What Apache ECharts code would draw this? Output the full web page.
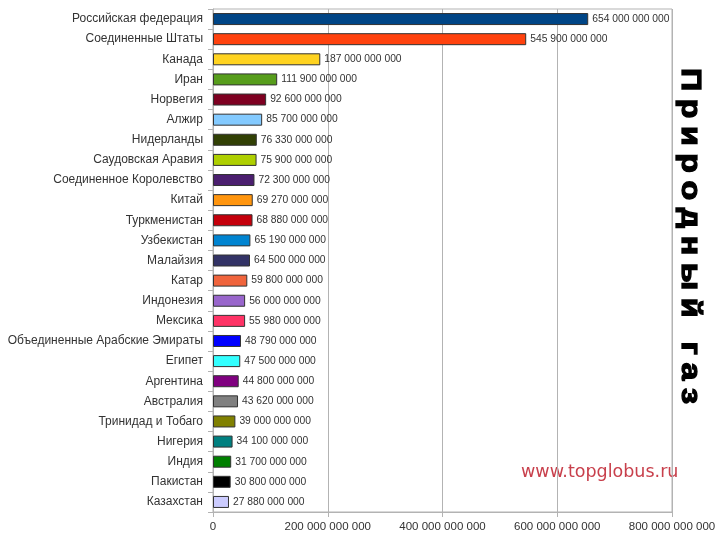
<!DOCTYPE html>
<html>
<head>
<meta charset="utf-8">
<script src="https://cdn.jsdelivr.net/npm/echarts@6/dist/echarts.min.js"></script>
<style>html,body{margin:0;padding:0;background:#fff}#c{width:720px;height:540px}</style>
</head>
<body>
<div id="c"></div>
<script>
const categories = ['Российская федерация','Соединенные Штаты','Канада','Иран','Норвегия','Алжир','Нидерланды','Саудовская Аравия','Соединенное Королевство','Китай','Туркменистан','Узбекистан','Малайзия','Катар','Индонезия','Мексика','Объединенные Арабские Эмираты','Египет','Аргентина','Австралия','Тринидад и Тобаго','Нигерия','Индия','Пакистан','Казахстан'];
const values = [654000000000,545900000000,187000000000,111900000000,92600000000,85700000000,76330000000,75900000000,72300000000,69270000000,68880000000,65190000000,64500000000,59800000000,56000000000,55980000000,48790000000,47500000000,44800000000,43620000000,39000000000,34100000000,31700000000,30800000000,27880000000];
const colors = ['#004586','#ff420e','#ffd320','#579d1c','#7e0021','#83caff','#314004','#aecf00','#4b1f6f','#ff950e','#c5000b','#0084d1','#333366','#f0643c','#9966cc','#ff3366','#0000ff','#33ffff','#800080','#808080','#808000','#008080','#008000','#000000','#ccccff'];
const xTicks = [0,200000000000,400000000000,600000000000,800000000000];
const titleText = 'Природный газ';
const watermark = 'www.topglobus.ru';

function fmt(v){ return String(Math.round(v)).replace(/\B(?=(\d{3})+(?!\d))/g,' '); }

const chart = echarts.init(document.getElementById('c'));

// vertical title characters with letter spacing
const titleFont = 'bold 28px "Liberation Sans", Arial, sans-serif';
const stretch = 1.15;
const cv = document.createElement('canvas').getContext('2d');
cv.font = titleFont;
const chars = Array.from(titleText);
const widths = chars.map(ch => cv.measureText(ch).width * stretch);
const startY = 68, endY = 404;
const natural = widths.reduce((a,b)=>a+b,0);
const gap = (endY - startY - natural) / (chars.length - 1);
const graphics = [];
let yy = startY;
chars.forEach((ch,i)=>{
  graphics.push({type:'text', x:690, y:yy, rotation:-Math.PI/2, scaleX:stretch,
    style:{text:ch, font:titleFont, fill:'#000', stroke:'#000', lineWidth:1.3, textAlign:'left', textVerticalAlign:'middle'}});
  yy += widths[i] + gap;
});
graphics.push({type:'text', left:521, top:463,
  style:{text:watermark, font:'17.5px "DejaVu Sans", sans-serif', fill:'#c8404c'}});

chart.setOption({
  animation:false,
  grid:{left:213, right:48, top:9, bottom:28, show:true, borderColor:'#b3b3b3', borderWidth:1},
  xAxis:{type:'value', min:0, max:800000000000, interval:200000000000,
    axisLine:{show:true, lineStyle:{color:'#b3b3b3'}},
    axisTick:{show:true, length:5, lineStyle:{color:'#b3b3b3'}},
    splitLine:{show:true, lineStyle:{color:'#b3b3b3'}},
    axisLabel:{formatter:v=>fmt(v), color:'#333', fontSize:11.5, fontFamily:'"Liberation Sans", Arial, sans-serif', margin:9, showMaxLabel:true}
  },
  yAxis:{type:'category', data:categories, inverse:true,
    axisLine:{show:true, lineStyle:{color:'#b3b3b3'}},
    axisTick:{show:true, length:5, lineStyle:{color:'#b3b3b3'}},
    axisLabel:{color:'#333', fontSize:12, fontFamily:'"Liberation Sans", Arial, sans-serif', margin:10}
  },
  series:[{type:'bar', barWidth:12,
    data: values.map((v,i)=>({value:v, itemStyle:{color:colors[i]}})),
    itemStyle:{borderColor:'#333', borderWidth:1},
    label:{show:true, position:'right', distance:4, formatter:p=>fmt(p.value), color:'#333', fontSize:10.3, fontFamily:'"Liberation Sans", Arial, sans-serif'}
  }],
  graphic: graphics
});
</script>
</body>
</html>
